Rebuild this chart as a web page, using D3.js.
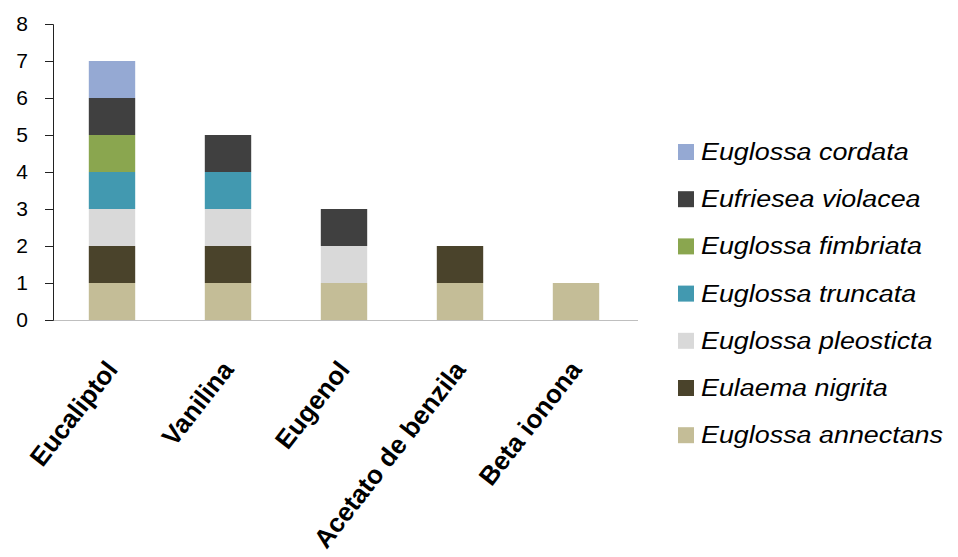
<!DOCTYPE html>
<html>
<head>
<meta charset="utf-8">
<script src="https://cdn.jsdelivr.net/npm/d3@7"></script>
<style>
	body { margin: 0; background: #fff; }
	svg { font-family: "Liberation Sans", Arial, sans-serif; }
</style>
</head>
<body>
<svg id="chart" width="958" height="557"></svg>
<script>
// chart data
var categories = ["Eucaliptol", "Vanilina", "Eugenol", "Acetato de benzila", "Beta ionona"];
var species = ["Euglossa annectans", "Eulaema nigrita", "Euglossa pleosticta", "Euglossa truncata",
	"Euglossa fimbriata", "Eufriesea violacea", "Euglossa cordata"];
var annectans  = [1, 1, 1, 1, 1];
var nigrita    = [1, 1, 0, 1, 0];
var pleosticta = [1, 1, 1, 0, 0];
var truncata   = [1, 1, 0, 0, 0];
var fimbriata  = [1, 0, 0, 0, 0];
var violacea   = [1, 1, 1, 0, 0];
var cordata    = [1, 0, 0, 0, 0];
var yTicks = [0, 1, 2, 3, 4, 5, 6, 7, 8];
var colors = ["#c4bd97", "#4a432b", "#d9d9d9", "#4299b0", "#8aa64f", "#404040", "#95a9d3"];

var seriesValues = [annectans, nigrita, pleosticta, truncata, fimbriata, violacea, cordata];

// build rows for d3.stack
var rows = categories.map(function(c, i) {
	var row = {category: c};
	species.forEach(function(s, j) { row[s] = seriesValues[j][i]; });
	return row;
});
var stacked = d3.stack().keys(species)(rows);

var svg = d3.select("#chart");
var x = d3.scaleBand().domain(categories).range([54, 634]).paddingInner(0.6).paddingOuter(0.3);
var y = d3.scaleLinear().domain([0, 8]).range([320, 24]);
var color = d3.scaleOrdinal().domain(species).range(colors);

// bars
svg.append("g").selectAll("g")
	.data(stacked)
	.enter()
	.append("g")
		.attr("fill", function(d) { return color(d.key); })
	.selectAll("rect")
	.data(function(d) { return d.filter(function(p) { return p[1] > p[0]; }); })
	.enter()
	.append("rect")
		.attr("x", function(d) { return x(d.data.category); })
		.attr("width", x.bandwidth())
		.attr("y", function(d) { return y(d[1]); })
		.attr("height", function(d) { return y(d[0]) - y(d[1]); });

// x axis
var xAxis = svg.append("g")
	.attr("transform", "translate(0," + y(0) + ")")
	.call(d3.axisBottom(x).tickSize(0).tickSizeOuter(0));
xAxis.select(".domain").attr("stroke", "#bfbfbf").attr("d", "M53,0.5H638");
xAxis.selectAll("text")
	.attr("font-size", 26)
	.attr("font-weight", "bold")
	.attr("fill", "#000")
	.attr("dy", 0)
	.attr("y", 0)
	.attr("x", 0)
	.attr("transform", "translate(7,50) rotate(-52)")
	.style("text-anchor", "end")
	.style("font-family", "'Liberation Sans', Arial, sans-serif");

// y axis
var yAxis = svg.append("g")
	.attr("transform", "translate(53,0)")
	.call(d3.axisLeft(y).tickValues(yTicks).tickSize(8).tickSizeOuter(8).tickPadding(17));
yAxis.select(".domain").attr("stroke", "#222");
yAxis.selectAll("line").attr("stroke", "#222");
yAxis.selectAll("text")
	.attr("font-size", 21)
	.attr("fill", "#000")
	.style("font-family", "'Liberation Sans', Arial, sans-serif");

// legend
var legend = svg.append("g").attr("transform", "translate(678,160)");
var legendItems = legend.selectAll("g")
	.data(species.slice().reverse())
	.enter()
	.append("g")
		.attr("transform", function(d, i) { return "translate(0," + (i * 47.2) + ")"; });
legendItems.append("rect")
	.attr("x", 0).attr("y", -16)
	.attr("width", 16).attr("height", 16)
	.attr("fill", function(d) { return color(d); });
legendItems.append("text")
	.attr("transform", "translate(23,0) scale(1.12,1)")
	.attr("font-size", 24)
	.attr("font-style", "italic")
	.attr("fill", "#000")
	.text(function(d) { return d; });
</script>
</body>
</html>
